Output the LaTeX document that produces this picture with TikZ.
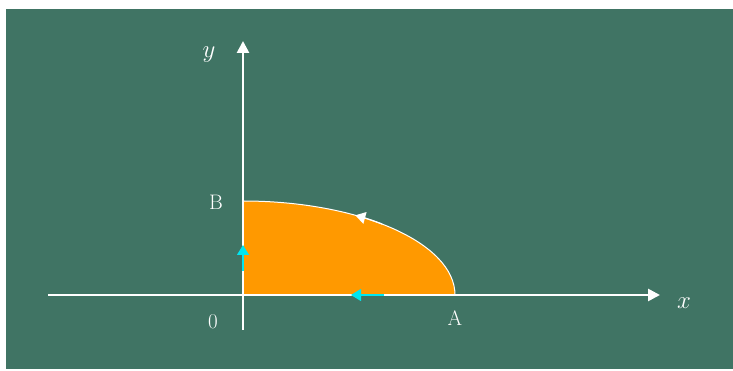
\documentclass[tikz,border=0pt]{standalone}
\usepackage{fontspec}
\usetikzlibrary{arrows.meta}
\definecolor{board}{RGB}{64,116,100}
\definecolor{fillorange}{RGB}{255,153,0}
\definecolor{flowcyan}{RGB}{0,230,240}
\tikzset{
  axis/.style={white, line width=2.6pt, -{Triangle[length=12pt,width=12pt]}},
  lbl/.style={white, font=\fontsize{21}{21}\selectfont},
  flow/.style={line width=1.2pt, -{Triangle[length=10pt,width=12pt]}}
}
\begin{document}
\begin{tikzpicture}[x=1pt,y=1pt]
\useasboundingbox (0,0) rectangle (733,371);
\fill[white] (0,0) rectangle (733,371);
\fill[board] (6,2) rectangle (733,362);
% points:
\coordinate (O) at (243,76);
\coordinate (A) at (455,76);
\coordinate (B) at (243,170);
% region:
\fill[fillorange] (O) -- (A) arc[start angle=0, end angle=90, x radius=212, y radius=94] -- cycle;
\draw[white, line width=1pt] (A) arc[start angle=0, end angle=90, x radius=212, y radius=94];
% axes:
\coordinate (xs) at (48,76);
\coordinate (xe) at (660,76);
\coordinate (ys) at (243,41);
\coordinate (ye) at (243,330);
\draw[axis] (xs) -- (xe);
\draw[axis] (ys) -- (ye);
% orientation arrows:
\coordinate (c1) at (243,100);
\coordinate (c2) at (243,126);
\coordinate (c3) at (384,76);
\coordinate (c4) at (351,76);
\draw[flow, flowcyan] (c1) -- (c2);
\draw[flow, flowcyan] (c3) -- (c4);
\draw[flow, white] (O) ++(49:212 and 94) arc[start angle=49, end angle=58, x radius=212, y radius=94];
% labels:
\node[lbl] (lB) at (216,169) {B};
\node[lbl] (lO) at (213,49) {0};
\node[lbl] (lA) at (455,53) {A};
\node[white, font=\fontsize{30}{30}\selectfont] (lx) at (684,68) {$x$};
\node[white, font=\fontsize{30}{30}\selectfont] (ly) at (209,316) {$y$};
\end{tikzpicture}
\end{document}
